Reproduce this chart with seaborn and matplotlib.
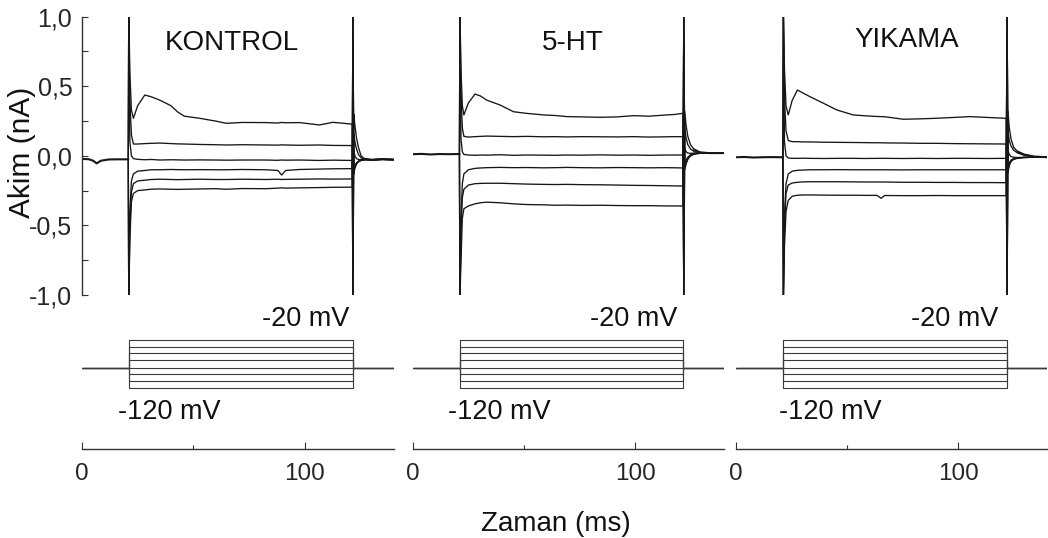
import matplotlib
matplotlib.use("Agg")
import matplotlib.pyplot as plt
import pandas as pd
import seaborn as sns
from matplotlib.ticker import FixedLocator

sns.set_theme(style="white")
plt.rcParams["font.family"] = ["Liberation Sans", "DejaVu Sans"]

# ---------------- data ----------------
PANEL_NAMES = ["KONTROL", "5-HT", "YIKAMA"]

# voltage protocol (mV)
VOLT_LEVELS = [-20, -34, -48, -62, -78, -91, -105, -120]
HOLDING_MV = -78
STEP_LABEL_TOP = "-20 mV"
STEP_LABEL_BOTTOM = "-120 mV"

# step onset / offset (ms)
KONTROL_STEP = (21.0, 121.6)
HT_STEP = (21.2, 121.6)
YIKAMA_STEP = (21.5, 121.8)

# --- KONTROL currents (nA) ---
KONTROL_PRE_T = [0.0, 3.0, 5.0, 6.6, 8.5, 12.0, 16.0, 20.8]
KONTROL_PRE_I = [-0.022, -0.024, -0.035, -0.054, -0.035, -0.026, -0.025, -0.025]
KONTROL_STEP_T = [21.0, 21.5, 22.2, 23.1, 25.0, 28.2, 31.0, 35.0, 40.0, 43.0, 46.0,
                  52.8, 60.0, 64.8, 72.0, 82.7, 88.0, 89.7, 91.5, 97.7, 106.7, 112.7, 121.4]
KONTROL_STEP_I = [
    [1.05, 0.60, 0.33, 0.27, 0.36, 0.437, 0.425, 0.40, 0.36, 0.315, 0.285,
     0.27, 0.25, 0.234, 0.24, 0.239, 0.236, 0.24, 0.238, 0.239, 0.222, 0.241, 0.228],
    [1.05, 0.40, 0.15, 0.085, 0.085, 0.088, 0.09, 0.092, 0.088, 0.086, 0.085,
     0.082, 0.08, 0.078, 0.08, 0.078, 0.077, 0.079, 0.078, 0.076, 0.078, 0.075, 0.074],
    [1.05, 0.10, 0.0, -0.02, -0.025, -0.028, -0.026, -0.03, -0.028, -0.029, -0.03,
     -0.029, -0.03, -0.031, -0.03, -0.03, -0.032, -0.03, -0.031, -0.03, -0.033, -0.031, -0.033],
    [-1.05, -0.40, -0.18, -0.13, -0.11, -0.105, -0.10, -0.10, -0.098, -0.099, -0.10,
     -0.099, -0.10, -0.10, -0.098, -0.10, -0.105, -0.138, -0.105, -0.098, -0.095, -0.093, -0.092],
    [-1.05, -0.50, -0.26, -0.20, -0.18, -0.175, -0.17, -0.168, -0.17, -0.171, -0.17,
     -0.168, -0.17, -0.17, -0.168, -0.17, -0.168, -0.17, -0.169, -0.168, -0.166, -0.167, -0.166],
    [-1.05, -0.60, -0.33, -0.27, -0.25, -0.245, -0.24, -0.238, -0.24, -0.241, -0.24,
     -0.238, -0.236, -0.24, -0.235, -0.236, -0.232, -0.23, -0.232, -0.23, -0.228, -0.226, -0.225],
]
KONTROL_TAIL_T = [121.7, 122.1, 122.6, 123.3, 124.2, 125.4, 127.0, 130.0, 135.0, 140.0]
KONTROL_TAIL_I = [
    [-1.05, 0.30, 0.22, 0.13, 0.06, 0.0, -0.022, -0.028, -0.025, -0.027],
    [-1.05, 0.16, 0.10, 0.05, 0.01, -0.015, -0.024, -0.028, -0.025, -0.027],
    [-1.05, 0.04, 0.0, -0.02, -0.026, -0.028, -0.027, -0.028, -0.025, -0.027],
    [1.05, -0.09, -0.07, -0.05, -0.038, -0.03, -0.027, -0.028, -0.025, -0.027],
    [1.05, -0.11, -0.08, -0.055, -0.04, -0.032, -0.027, -0.028, -0.025, -0.027],
    [1.05, -0.13, -0.09, -0.06, -0.042, -0.033, -0.028, -0.028, -0.025, -0.027],
]

# --- 5-HT currents (nA) ---
HT_PRE_T = [0.0, 4.0, 8.0, 12.0, 16.0, 21.0]
HT_PRE_I = [0.012, 0.014, 0.010, 0.013, 0.012, 0.013]
HT_STEP_T = [21.2, 21.7, 22.3, 23.0, 25.0, 28.0, 30.5, 33.3, 39.3, 45.3, 51.3,
             58.8, 64.0, 69.3, 76.0, 84.2, 92.0, 99.2, 106.0, 114.2, 118.0, 121.4]
HT_STEP_I = [
    [1.05, 0.62, 0.36, 0.294, 0.38, 0.444, 0.43, 0.40, 0.365, 0.317, 0.305,
     0.294, 0.29, 0.282, 0.28, 0.277, 0.28, 0.289, 0.285, 0.294, 0.298, 0.306],
    [1.05, 0.45, 0.20, 0.14, 0.135, 0.138, 0.14, 0.142, 0.14, 0.138, 0.14,
     0.137, 0.138, 0.136, 0.138, 0.137, 0.136, 0.138, 0.135, 0.137, 0.138, 0.138],
    [1.05, 0.12, 0.03, 0.01, 0.006, 0.004, 0.006, 0.005, 0.008, 0.004, 0.006,
     0.005, 0.004, 0.006, 0.005, 0.007, 0.005, 0.006, 0.004, 0.006, 0.006, 0.006],
    [-1.05, -0.45, -0.20, -0.13, -0.10, -0.09, -0.087, -0.085, -0.083, -0.085, -0.084,
     -0.086, -0.085, -0.083, -0.085, -0.086, -0.084, -0.085, -0.086, -0.085, -0.086, -0.087],
    [-1.05, -0.55, -0.30, -0.24, -0.21, -0.20, -0.198, -0.197, -0.197, -0.20, -0.203,
     -0.205, -0.206, -0.205, -0.207, -0.208, -0.21, -0.212, -0.213, -0.215, -0.216, -0.217],
    [-1.05, -0.75, -0.45, -0.38, -0.36, -0.345, -0.337, -0.333, -0.337, -0.345, -0.35,
     -0.352, -0.355, -0.354, -0.356, -0.355, -0.357, -0.358, -0.358, -0.36, -0.36, -0.36],
]
HT_TAIL_T = [121.8, 122.2, 122.8, 123.6, 124.8, 126.5, 129.0, 133.0, 140.0]
HT_TAIL_I = [
    [-1.05, 0.32, 0.22, 0.14, 0.08, 0.045, 0.025, 0.02, 0.02],
    [-1.05, 0.20, 0.13, 0.08, 0.05, 0.03, 0.022, 0.02, 0.02],
    [-1.05, 0.06, 0.03, 0.02, 0.018, 0.02, 0.02, 0.02, 0.02],
    [1.05, -0.06, -0.03, -0.01, 0.008, 0.016, 0.02, 0.02, 0.02],
    [1.05, -0.08, -0.045, -0.018, 0.004, 0.014, 0.019, 0.02, 0.02],
    [1.05, -0.10, -0.06, -0.025, 0.0, 0.012, 0.018, 0.02, 0.02],
]

# --- YIKAMA currents (nA) ---
YIKAMA_PRE_T = [0.5, 4.0, 8.0, 12.0, 16.0, 21.3]
YIKAMA_PRE_I = [-0.01, -0.008, -0.012, -0.01, -0.009, -0.01]
YIKAMA_STEP_T = [21.5, 22.0, 22.7, 23.7, 25.5, 27.8, 30.5, 33.5, 39.5, 45.5, 52.9,
                 58.0, 63.5, 65.4, 67.0, 75.4, 83.0, 90.3, 98.0, 105.3, 113.0, 121.6]
YIKAMA_STEP_I = [
    [1.05, 0.62, 0.36, 0.294, 0.40, 0.473, 0.45, 0.425, 0.378, 0.33, 0.294,
     0.288, 0.283, 0.282, 0.281, 0.263, 0.266, 0.27, 0.276, 0.282, 0.276, 0.27],
    [1.05, 0.42, 0.18, 0.11, 0.102, 0.102, 0.10, 0.10, 0.098, 0.097, 0.096,
     0.095, 0.094, 0.094, 0.093, 0.092, 0.09, 0.09, 0.088, 0.087, 0.086, 0.085],
    [1.05, 0.10, 0.0, -0.015, -0.018, -0.018, -0.017, -0.018, -0.019, -0.018, -0.018,
     -0.019, -0.018, -0.018, -0.018, -0.019, -0.018, -0.019, -0.018, -0.018, -0.019, -0.018],
    [-1.05, -0.42, -0.20, -0.13, -0.11, -0.104, -0.102, -0.10, -0.10, -0.099, -0.10,
     -0.10, -0.10, -0.10, -0.10, -0.101, -0.10, -0.10, -0.10, -0.10, -0.10, -0.10],
    [-1.05, -0.50, -0.27, -0.21, -0.195, -0.19, -0.187, -0.186, -0.186, -0.186, -0.187,
     -0.188, -0.188, -0.188, -0.188, -0.19, -0.19, -0.191, -0.191, -0.192, -0.192, -0.193],
    [-1.05, -0.65, -0.40, -0.32, -0.29, -0.283, -0.281, -0.281, -0.282, -0.283, -0.283,
     -0.284, -0.284, -0.305, -0.285, -0.286, -0.286, -0.285, -0.286, -0.286, -0.286, -0.286],
]
YIKAMA_TAIL_T = [122.0, 122.4, 123.0, 123.8, 125.0, 126.8, 129.5, 134.0, 140.0]
YIKAMA_TAIL_I = [
    [-1.05, 0.32, 0.20, 0.12, 0.06, 0.03, 0.01, -0.005, -0.01],
    [-1.05, 0.18, 0.11, 0.07, 0.04, 0.02, 0.005, -0.006, -0.01],
    [-1.05, 0.04, 0.01, -0.005, -0.01, -0.012, -0.01, -0.01, -0.01],
    [1.05, -0.08, -0.05, -0.03, -0.02, -0.015, -0.012, -0.01, -0.01],
    [1.05, -0.10, -0.06, -0.035, -0.022, -0.016, -0.012, -0.01, -0.01],
    [1.05, -0.12, -0.07, -0.04, -0.025, -0.017, -0.012, -0.01, -0.01],
]

Y_TICKS = [-1.0, -0.5, 0.0, 0.5, 1.0]
Y_TICK_LABELS = ["-1,0", "-0,5", "0,0", "0,5", "1,0"]
Y_MINOR = [-0.75, -0.25, 0.25, 0.75]
X_TICKS = [0, 100]
X_TICK_LABELS = ["0", "100"]
X_MINOR = [50]
T_MAX = 140

PANELS = [
    dict(name=PANEL_NAMES[0], step=KONTROL_STEP, pre=(KONTROL_PRE_T, KONTROL_PRE_I),
         st=(KONTROL_STEP_T, KONTROL_STEP_I), tail=(KONTROL_TAIL_T, KONTROL_TAIL_I)),
    dict(name=PANEL_NAMES[1], step=HT_STEP, pre=(HT_PRE_T, HT_PRE_I),
         st=(HT_STEP_T, HT_STEP_I), tail=(HT_TAIL_T, HT_TAIL_I)),
    dict(name=PANEL_NAMES[2], step=YIKAMA_STEP, pre=(YIKAMA_PRE_T, YIKAMA_PRE_I),
         st=(YIKAMA_STEP_T, YIKAMA_STEP_I), tail=(YIKAMA_TAIL_T, YIKAMA_TAIL_I)),
]

# ---------------- layout (pixels) ----------------
W, H = 1048, 538
COL_LEFT = [82.0, 412.7, 735.5]
PX_PER_MS = 2.226
COL_W = T_MAX * PX_PER_MS
CUR_TOP, CUR_BOT = 16.7, 295.0
PROT_TOP, PROT_BOT = 340.0, 388.0          # -20 mV and -120 mV lines
PROT_PAD = 10.0
TIME_AXIS_Y = 449.0
TITLE_X = [67.2, 72.0, 76.8]
TITLE_Y = [0.81, 0.81, 0.83]
TOP_LABEL_X = [120.0, 118.8, 118.2]
BOT_LABEL_X = [16.0, 16.0, 19.5]

TRACE_COLOR = "#161616"
PROT_COLOR = "#3a3a3a"
FS_TEXT = 19.5


def fig_rect(left_px, top_px, width_px, bottom_px):
    return [left_px / W, 1 - bottom_px / H, width_px / W, (bottom_px - top_px) / H]


fig = plt.figure(figsize=(W / 100, H / 100), dpi=100)

for k, p in enumerate(PANELS):
    left = COL_LEFT[k]

    # ----- current traces -----
    ax = fig.add_axes(fig_rect(left, CUR_TOP, COL_W, CUR_BOT))
    pre_t, pre_i = p["pre"]
    st_t, st_i = p["st"]
    tl_t, tl_i = p["tail"]
    for s_vals, t_vals in zip(st_i, tl_i):
        df = pd.DataFrame({"t": [pre_t[-1]] + st_t + tl_t,
                           "i": [pre_i[-1]] + s_vals + t_vals})
        sns.lineplot(data=df, x="t", y="i", ax=ax, color=TRACE_COLOR, lw=0.95,
                     estimator=None, sort=False, legend=False)
    sns.lineplot(x=pre_t, y=pre_i, ax=ax, color=TRACE_COLOR, lw=1.5,
                 estimator=None, sort=False, legend=False)
    sns.lineplot(x=tl_t[-4:], y=tl_i[0][-4:], ax=ax, color=TRACE_COLOR, lw=1.5,
                 estimator=None, sort=False, legend=False)
    ax.set_xlim(0, T_MAX)
    ax.set_ylim(-1.0, 1.0)
    ax.set_xlabel("")
    ax.set_ylabel("")
    ax.set_xticks([])
    for s in ["top", "right", "bottom"]:
        ax.spines[s].set_visible(False)
    if k == 0:
        ax.spines["left"].set_color("#333333")
        ax.spines["left"].set_linewidth(1.0)
        ax.set_yticks(Y_TICKS)
        ax.set_yticklabels(Y_TICK_LABELS)
        ax.yaxis.set_minor_locator(FixedLocator(Y_MINOR))
        ax.tick_params(axis="y", which="both", direction="in", left=True,
                       length=4.5, width=0.8, color="#333333",
                       labelsize=18, pad=7)
    else:
        ax.spines["left"].set_visible(False)
        ax.set_yticks([])
    ax.text(TITLE_X[k], TITLE_Y[k], p["name"], ha="center", va="center",
            fontsize=20, color="#111111")
    ax.patch.set_alpha(0)

    # ----- voltage protocol -----
    axp = fig.add_axes(fig_rect(left, PROT_TOP - PROT_PAD, COL_W, PROT_BOT + PROT_PAD))
    mv_per_px = (VOLT_LEVELS[0] - VOLT_LEVELS[-1]) / (PROT_BOT - PROT_TOP)
    axp.set_ylim(VOLT_LEVELS[-1] - PROT_PAD * mv_per_px,
                 VOLT_LEVELS[0] + PROT_PAD * mv_per_px)
    on, off = p["step"]
    for v in VOLT_LEVELS:
        sns.lineplot(x=[0, on, on, off, off, T_MAX],
                     y=[HOLDING_MV, HOLDING_MV, v, v, HOLDING_MV, HOLDING_MV],
                     ax=axp, color=PROT_COLOR, lw=0.8, estimator=None,
                     sort=False, legend=False)
    axp.set_xlim(0, T_MAX)
    axp.set_axis_off()
    axp.text(TOP_LABEL_X[k], VOLT_LEVELS[0] + 21 * mv_per_px, STEP_LABEL_TOP,
             ha="right", va="center", fontsize=FS_TEXT, color="#111111")
    axp.text(BOT_LABEL_X[k], VOLT_LEVELS[-1] - 24 * mv_per_px, STEP_LABEL_BOTTOM,
             ha="left", va="center", fontsize=FS_TEXT, color="#111111")

    # ----- time axis -----
    axt = fig.add_axes(fig_rect(left, TIME_AXIS_Y - 8, COL_W, TIME_AXIS_Y))
    axt.set_xlim(0, T_MAX)
    axt.set_ylim(0, 1)
    axt.set_yticks([])
    for s in ["top", "right", "left"]:
        axt.spines[s].set_visible(False)
    axt.spines["bottom"].set_color("#333333")
    axt.spines["bottom"].set_linewidth(1.0)
    axt.set_xticks(X_TICKS)
    axt.set_xticklabels(X_TICK_LABELS)
    axt.xaxis.set_minor_locator(FixedLocator(X_MINOR))
    axt.tick_params(axis="x", which="major", direction="in", bottom=True,
                    length=5, width=0.8, color="#333333", labelsize=17.5, pad=10)
    axt.tick_params(axis="x", which="minor", direction="in", bottom=True,
                    length=3, width=0.8, color="#333333")
    axt.patch.set_alpha(0)

fig.text(22 / W, 1 - 152 / H, "Akim (nA)", rotation=90, ha="center", va="center",
         fontsize=21.5, color="#111111")
fig.text(556 / W, 1 - 524 / H, "Zaman (ms)", ha="center", va="center",
         fontsize=20, color="#111111")

fig.savefig("out.png", dpi=100, facecolor="white")
